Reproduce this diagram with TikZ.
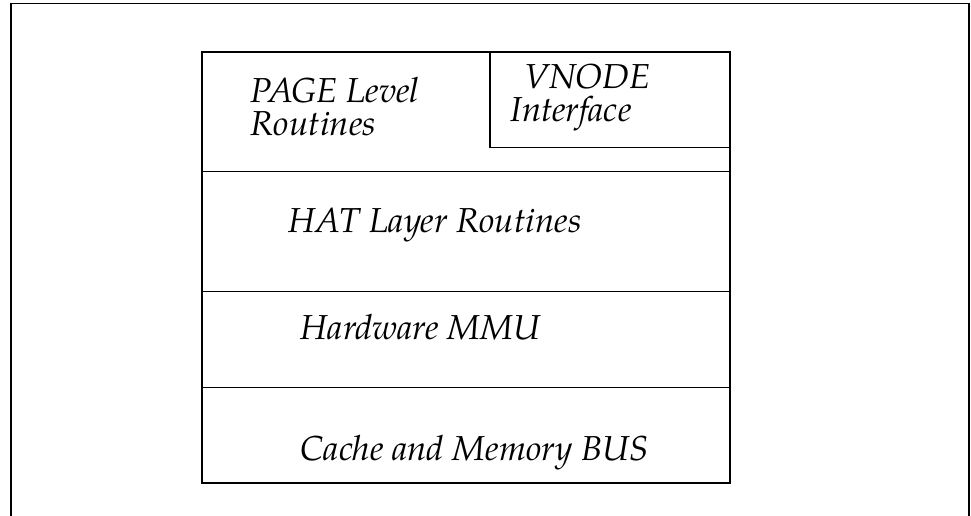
\documentclass[tikz,border=0pt]{standalone}
\usepackage{fontspec}
\setmainfont{TeX Gyre Pagella}
\begin{document}
\begin{tikzpicture}[x=0.75pt,y=-0.75pt,line width=1.15pt,
    lbl/.style={anchor=base west,inner sep=0pt,align=left,font=\itshape\fontsize{26}{24.75}\selectfont}]
        \useasboundingbox (0,0) rectangle (971,516);
        % outer frame, open at the bottom
        \draw (11,516) -- (11,3.5) -- (969,3.5) -- (969,516);

        \draw (202,52) rectangle (730,483);
        \draw (490,52) -- (490,147.5) -- (730,147.5);
        \foreach \y in {171.7,291.7,387.7} \draw (202,\y) -- (730,\y);

        % base anchor sits on the last line
        \node[lbl] (page) at (250,136) {PAGE Level\\Routines};
        \node[lbl] (vnode) at (510,122) {\hspace*{10pt}VNODE\\Interface};
        \node[lbl] (hat) at (288,233) {HAT Layer Routines};
        \node[lbl] (mmu) at (300,340) {Hardware MMU};
        \node[lbl] (bus) at (300,460) {Cache and Memory BUS};
    \end{tikzpicture}
\end{document}
